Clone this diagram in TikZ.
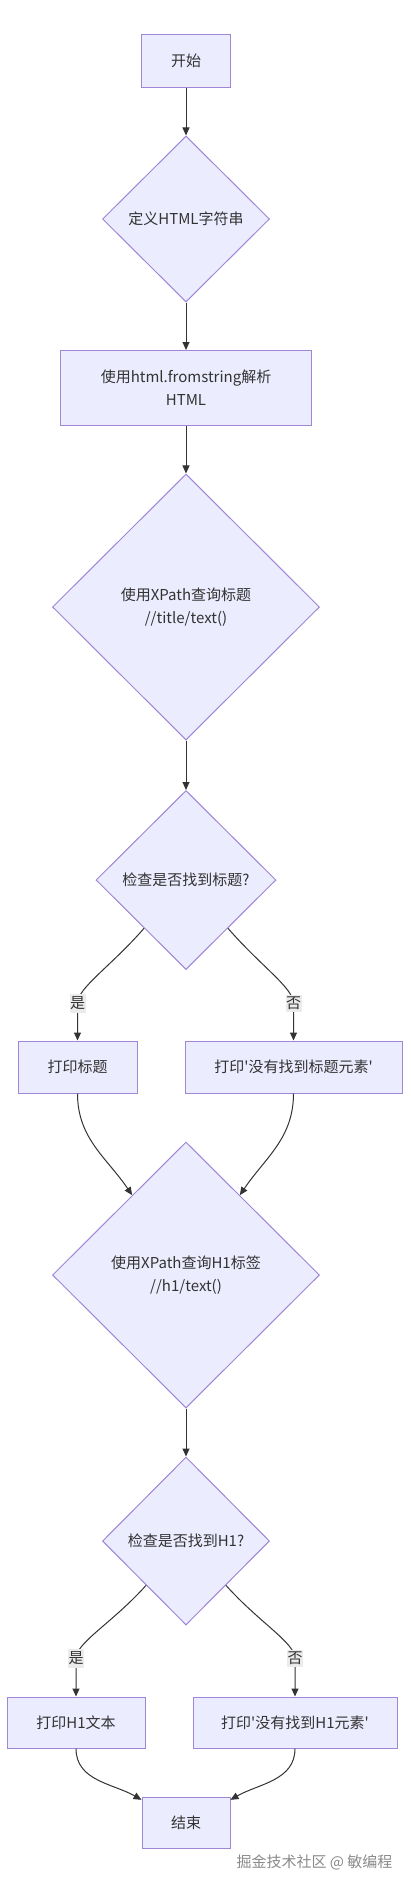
\documentclass[tikz,border=0pt]{standalone}
\usepackage{fontspec}
\newfontfamily\cjk{Noto Sans CJK SC}
\usetikzlibrary{shapes.geometric, arrows.meta}

\definecolor{nodefill}{HTML}{ECECFF}
\definecolor{nodeline}{HTML}{9F86D6}
\definecolor{edgeline}{HTML}{333333}
\definecolor{labelfill}{HTML}{EBEBEB}
\definecolor{markgray}{HTML}{8A8A8A}

\begin{document}
\begin{tikzpicture}[x = 1pt, y = -1pt,
	every node/.style = {font = \cjk\fontsize{15}{23}\selectfont, text = edgeline, align = center},
	box/.style = {rectangle, draw = nodeline, fill = nodefill, line width = 1pt, inner sep = 0pt},
	test/.style = {diamond, draw = nodeline, fill = nodefill, line width = 1pt, inner sep = 0pt},
	arr/.style = {draw = edgeline, line width = 1pt, -{Triangle[length = 8pt, width = 7pt]}},
	lbl/.style = {fill = labelfill, inner xsep = 0.5pt, inner ysep = 2.5pt},
	fork/.style = {out looseness = 1.3, in looseness = 0.4}]

	% Canvas
	
	\useasboundingbox [fill = white] (0, 0) rectangle (410, 1884);
	
	% Steps from start to the title test
	
	\node [box, minimum width = 89pt, minimum height = 52pt] (start) at (186, 61) {开始};
	\node [test, minimum width = 167pt, minimum height = 166pt] (html) at (186, 219) {定义HTML字符串};
	\node [box, minimum width = 251pt, minimum height = 75pt] (parse) at (186, 388) {使用html.fromstring解析\\HTML};
	\node [test, minimum width = 267pt, minimum height = 266pt] (qtitle) at (186, 607) {使用XPath查询标题\\//title/text()};
	\node [test, minimum width = 180pt, minimum height = 179pt] (ctitle) at (186, 880) {检查是否找到标题?};
	
	% Title branches
	
	\node [box, minimum width = 119pt, minimum height = 52pt] (ptitle) at (77.5, 1067) {打印标题};
	\node [box, minimum width = 217pt, minimum height = 52pt] (ntitle) at (293.5, 1067) {打印'没有找到标题元素'};
	
	% Steps for the H1 tag
	
	\node [test, minimum width = 267pt, minimum height = 266pt] (qhone) at (186, 1275) {使用XPath查询H1标签\\//h1/text()};
	\node [test, minimum width = 167pt, minimum height = 168pt] (chone) at (186, 1541) {检查是否找到H1?};
	\node [box, minimum width = 138pt, minimum height = 51pt] (phone) at (76, 1722.5) {打印H1文本};
	\node [box, minimum width = 204pt, minimum height = 51pt] (nhone) at (295, 1722.5) {打印'没有找到H1元素'};
	\node [box, minimum width = 88pt, minimum height = 51pt] (stop) at (186, 1822.5) {结束};
	
	% Label points
	
	\coordinate (yesA) at ([yshift = 37pt] ptitle.north);
	\coordinate (noA) at ([yshift = 37pt] ntitle.north);
	\coordinate (yesB) at ([yshift = 38pt] phone.north);
	\coordinate (noB) at ([yshift = 38pt] nhone.north);
	
	% Connectors
	
	\draw [arr] (start) -- (html);
	\draw [arr] (html) -- (parse);
	\draw [arr] (parse) -- (qtitle);
	\draw [arr] (qtitle) -- (ctitle);
	
	\draw [arr] (ctitle.229) to [out = 229, in = 90, fork] (yesA) node [lbl] (yesAlbl) {是} -- (ptitle);
	\draw [arr] (ctitle.311) to [out = 311, in = 90, fork] (noA) node [lbl] (noAlbl) {否} -- (ntitle);
	\draw [arr] (ptitle.south) to [out = -90, in = 124] (qhone.124);
	\draw [arr] (ntitle.south) to [out = -90, in = 56] (qhone.56);
	
	\draw [arr] (qhone) -- (chone);
	\draw [arr] (chone.228) to [out = 228, in = 90, fork] (yesB) node [lbl] (yesBlbl) {是} -- (phone);
	\draw [arr] (chone.312) to [out = 312, in = 90, fork] (noB) node [lbl] (noBlbl) {否} -- (nhone);
	\draw [arr] (phone.south) to [out = -90, in = 150] (stop.153);
	\draw [arr] (nhone.south) to [out = -90, in = 30] (stop.27);
	
	% Credit line
	
	\node [anchor = east, text = markgray] (credit) at (396, 1862) {掘金技术社区 @ 敏编程};

\end{tikzpicture}
\end{document}
